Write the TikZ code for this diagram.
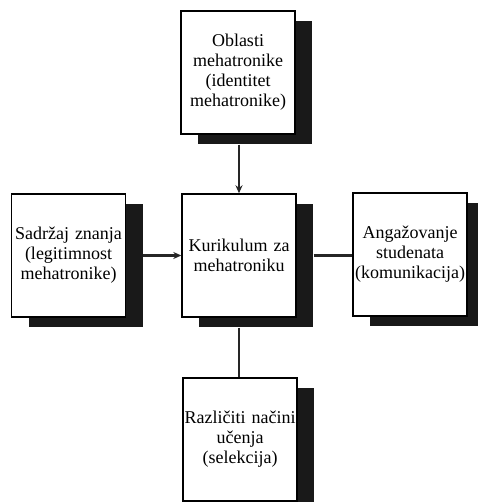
\documentclass[tikz,border=0pt]{standalone}
\usepackage{fontspec}
\setmainfont{Liberation Serif}
\usetikzlibrary{shadows,arrows.meta}

\begin{document}
\begin{tikzpicture}[x=1pt, y=1pt,
  block/.style={draw, line width=1.4pt, fill=white, minimum width=114pt, minimum height=123pt,
    text width=112pt, inner sep=1pt, align=center, font=\fontsize{18}{20}\selectfont,
    drop shadow={shadow xshift=17pt, shadow yshift=-10pt, fill=black!90, opacity=1}},
  link/.style={line width=2.6pt, black!85}]
\useasboundingbox (0,0) rectangle (477,502);
\node[block] (oblasti) at (238, 429.5) {Oblasti\\mehatronike\\(identitet\\mehatronike)};
\node[block] (sadrzaj) at (68.5, 246.5) {Sadržaj znanja\\(legitimnost\\mehatronike)};
\node[block] (kurikulum) at (239, 246.5) {Kurikulum za\\mehatroniku};
\node[block] (angazovanje) at (410, 247.5) {Angažovanje\\studenata\\(komunikacija)};
\node[block] (razliciti) at (240, 62.5) {Različiti načini\\učenja\\(selekcija)};
\draw[link, -{Stealth[length=8pt, width=7pt]}] (oblasti.south -| kurikulum.north) ++(0,-10) -- (kurikulum.north);
\draw[link, -{Stealth[length=8pt, width=7pt]}] (sadrzaj.east) ++(17,0) -- (kurikulum.west);
\draw[link] (kurikulum.east) ++(17,0) -- (angazovanje.west |- kurikulum.east);
\draw[link] (kurikulum.south) ++(0,-10) -- (razliciti.north -| kurikulum.south);
\end{tikzpicture}
\end{document}
